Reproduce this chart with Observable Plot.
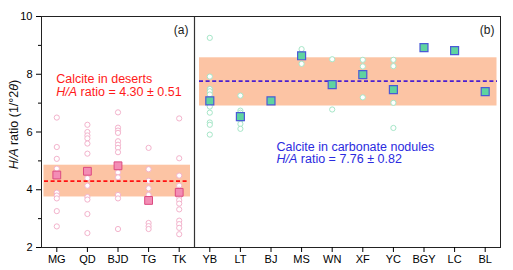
<!DOCTYPE html>
<html>
<head>
<meta charset="utf-8">
<script src="https://cdn.jsdelivr.net/npm/d3@7"></script>
<script src="https://cdn.jsdelivr.net/npm/@observablehq/plot@0.6"></script>
<style>
  html, body { margin: 0; padding: 0; background: white; }
  svg { display: block; }
</style>
</head>
<body>
<script>
// ---------- data ----------
const desertSites = ["MG", "QD", "BJD", "TG", "TK"];
const noduleSites = ["YB", "LT", "BJ", "MS", "WN", "XF", "YC", "BGY", "LC", "BL"];

const desertSamples = [
  [6.5, 5.48, 5.07, 4.73, 3.9, 3.8, 3.7, 3.26, 2.73],
  [6.25, 6.0, 5.88, 5.78, 5.6, 5.25, 4.4, 4.14, 3.75, 3.66, 3.16, 2.5],
  [6.68, 6.15, 6.05, 5.97, 5.68, 5.56, 5.45, 5.3, 4.6, 4.43, 3.82, 3.7, 2.64],
  [5.45, 4.71, 4.31, 4.05, 3.82, 2.85, 2.74, 2.64],
  [6.47, 5.09, 4.49, 4.14, 4.0, 3.76, 3.64, 3.52, 3.32, 2.93, 2.81, 2.68, 2.46]
];
const desertMeans = [4.51, 4.64, 4.83, 3.63, 3.91];

const noduleSamples = [
  [9.26, 7.92, 7.49, 7.41, 7.3, 6.88, 6.67, 6.33, 6.25, 5.91],
  [7.26, 6.74, 6.67, 6.6, 6.4, 6.28, 6.11],
  [],
  [8.87, 8.36],
  [8.52, 6.78],
  [8.5, 8.27, 7.2],
  [8.5, 8.28, 7.01, 6.14],
  [],
  [],
  []
];
const noduleMeans = [7.08, 6.53, 7.08, 8.64, 7.64, 7.99, 7.47, 8.92, 8.82, 7.4];

const desertMean = 4.30, desertSD = 0.51;
const noduleMean = 7.76, noduleSD = 0.82;
const desertBand = [3.75, 4.85];
const noduleBand = [6.9, 8.57];

const yTicks = [2, 4, 6, 8, 10];
const yMinorTicks = [3, 5, 7, 9];

// ---------- derived tables ----------
const sites = [...desertSites, ...noduleSites];
const idx = new Map(sites.map((s, i) => [s, i]));
const desertPts = desertSites.flatMap((s, i) => desertSamples[i].map(v => ({i: idx.get(s), v})));
const nodulePts = noduleSites.flatMap((s, i) => noduleSamples[i].map(v => ({i: idx.get(s), v})));
const desertSq = desertSites.map((s, i) => ({i: idx.get(s), v: desertMeans[i]}));
const noduleSq = noduleSites.map((s, i) => ({i: idx.get(s), v: noduleMeans[i]}));

const aStart = -0.5, aEnd = desertSites.length - 0.5, bEnd = sites.length - 0.5;

const FONT = "'Liberation Sans', Arial, Helvetica, sans-serif";

const plot = Plot.plot({
  width: 513,
  height: 270,
  marginLeft: 41,
  marginRight: 13,
  marginTop: 16,
  marginBottom: 23,
  style: {fontFamily: FONT, fontSize: "11px", color: "black", background: "white"},
  x: {domain: [aStart, bEnd]},
  y: {domain: [2, 10]},
  marks: [
    Plot.rect([desertBand], {x1: () => aStart, x2: () => aEnd, y1: d => d[0], y2: d => d[1],
      fill: "#fcc4a4", insetLeft: 2.5, insetRight: 4}),
    Plot.rect([noduleBand], {x1: () => aEnd, x2: () => bEnd, y1: d => d[0], y2: d => d[1],
      fill: "#fcc4a4", insetLeft: 5, insetRight: 3.5}),
    Plot.dot(desertPts, {x: "i", y: "v", r: 2.6, fill: "white", stroke: "#f3b3cc", strokeWidth: 1}),
    Plot.dot(nodulePts, {x: "i", y: "v", r: 2.6, fill: "white", stroke: "#a6e6c8", strokeWidth: 1}),
    Plot.ruleY([desertMean], {x1: aStart, x2: aEnd, stroke: "#ff1010", strokeWidth: 1.8,
      strokeDasharray: "4,2.6", insetLeft: 3, insetRight: 6}),
    Plot.ruleY([noduleMean], {x1: aEnd, x2: bEnd, stroke: "#4a1fd0", strokeWidth: 1.8,
      strokeDasharray: "4,2.6", insetLeft: 5, insetRight: 3}),
    Plot.dot(desertSq, {x: "i", y: "v", symbol: "square", r: 4.4, fill: "#f38db5", stroke: "#dc4a80", strokeWidth: 1}),
    Plot.dot(noduleSq, {x: "i", y: "v", symbol: "square", r: 4.5, fill: "#5fd49f", stroke: "#4a5ad6", strokeWidth: 1.2}),
    Plot.ruleX([aEnd], {stroke: "#333", strokeWidth: 1.2}),
    Plot.frame({stroke: "#222", strokeWidth: 1}),
    Plot.text(["(a)", "(b)"], {x: [aEnd, bEnd], y: [10, 10], text: d => d, textAnchor: "end",
      lineAnchor: "middle", dx: -6, dy: 13.5, fontSize: 12, fill: "#222"}),
    Plot.axisY({ticks: yTicks, tickSize: 5, tickPadding: 4, label: null, fontSize: 11}),
    Plot.axisY({ticks: yMinorTicks, tickSize: 3, tickFormat: () => "", label: null}),
    Plot.axisX({ticks: d3.range(sites.length), tickFormat: i => sites[i], tickSize: 5, tickPadding: 3,
      label: null, fontSize: 11})
  ]
});

document.body.appendChild(plot);

const sx = plot.scale("x"), sy = plot.scale("y");
const svg = d3.select(plot);

// y-axis title
const yl = svg.append("text")
  .attr("transform", `translate(18.3, ${sy.apply(6.24)}) rotate(-90)`)
  .attr("text-anchor", "middle")
  .attr("font-family", FONT)
  .attr("font-size", 12.5)
  .attr("fill", "#111");
yl.append("tspan").attr("font-style", "italic").text("H/A");
yl.append("tspan").text(" ratio (1/°2");
yl.append("tspan").attr("font-style", "italic").text("θ");
yl.append("tspan").text(")");

function note(x0, yBase, color, line1, stat) {
  const g = svg.append("g").attr("font-family", FONT).attr("font-size", 12.5)
    .attr("fill", color).attr("text-anchor", "start");
  g.append("text").attr("x", x0).attr("y", yBase).text(line1);
  const t = g.append("text").attr("x", x0).attr("y", yBase + 12.5);
  t.append("tspan").attr("font-style", "italic").text("H/A");
  t.append("tspan").text(` ratio = ${stat}`);
}
note(sx.apply(idx.get("MG")), sy.apply(7.67), "#ff1a1a", "Calcite in deserts",
  `${desertMean.toFixed(2)} ± ${desertSD.toFixed(2)}`);
note(sx.apply(idx.get("BJ")) + 6, sy.apply(5.33), "#2b2be0", "Calcite in carbonate nodules",
  `${noduleMean.toFixed(2)} ± ${noduleSD.toFixed(2)}`);
</script>
</body>
</html>
